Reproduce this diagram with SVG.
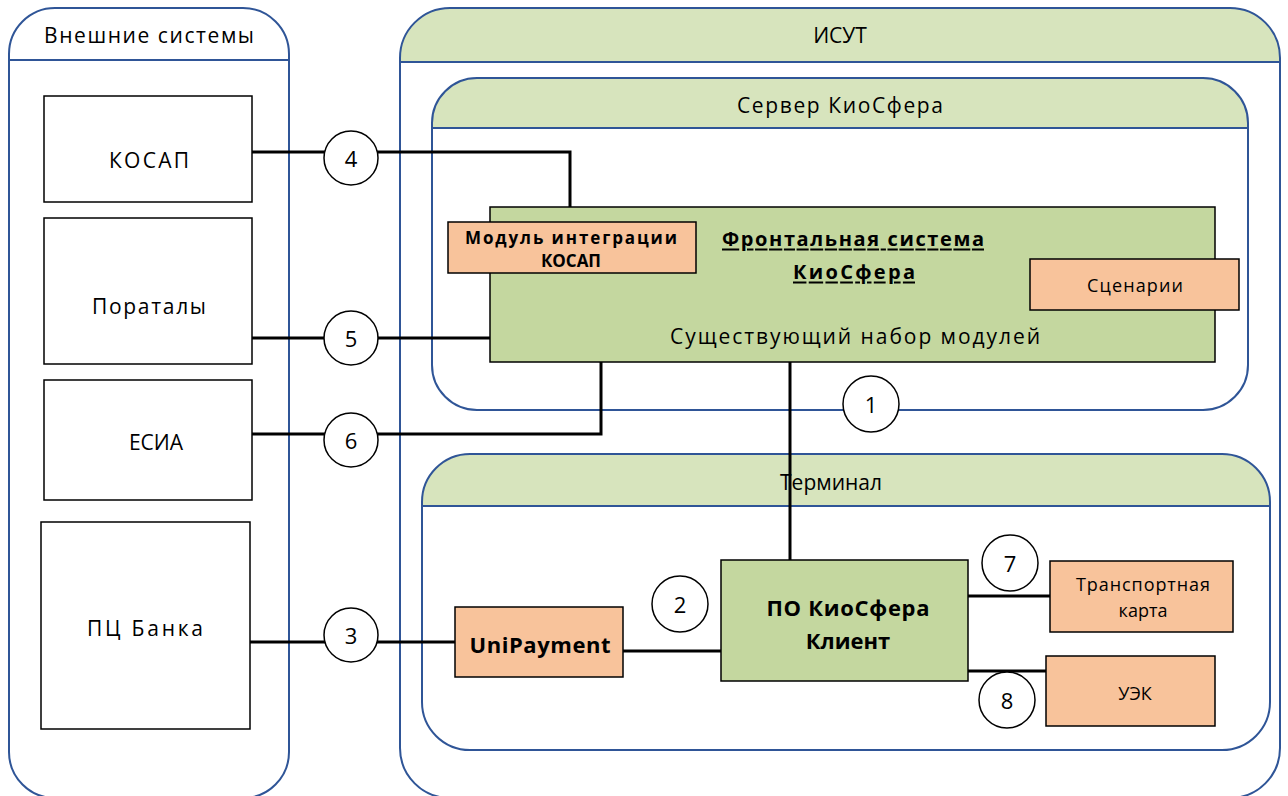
<svg xmlns="http://www.w3.org/2000/svg" width="1288" height="796" viewBox="0 0 1288 796">
<defs>
<style>
text{font-family:"Open Sans","Liberation Sans",sans-serif;fill:#000;text-anchor:middle;dominant-baseline:central}
.cont{fill:none;stroke:#2F5597;stroke-width:2}
.hdr{fill:#D7E4BD;stroke:none}
.sys{fill:#fff;stroke:#000;stroke-width:1.5}
.grn{fill:#C4D79F;stroke:#000;stroke-width:1.5}
.org{fill:#F8C39B;stroke:#000;stroke-width:1.5}
.cir{fill:#fff;stroke:#000;stroke-width:1.5}
.ln{fill:none;stroke:#000;stroke-width:3}
.t20{font-size:21px}
.num{font-size:22px}
.b{font-weight:bold}
</style>
</defs>
<rect width="1288" height="796" fill="#fff"/>
<g id="ext">
<rect class="cont" x="9" y="8" width="280" height="790" rx="46"/>
<line class="cont" x1="9" y1="60" x2="289" y2="60"/>
<text class="t20" x="149" y="35" textLength="210" lengthAdjust="spacing">Внешние системы</text>
</g>
<g id="isut">
<path class="hdr" d="M400,62 V58 A50,50 0 0 1 450,8 H1230 A50,50 0 0 1 1280,58 V62 Z"/>
<rect class="cont" x="400" y="8" width="880" height="790" rx="50"/>
<line class="cont" x1="400" y1="62" x2="1280" y2="62"/>
<text class="t20" x="840" y="35">ИСУТ</text>
</g>
<g id="server">
<path class="hdr" d="M432,128 V123 A45,45 0 0 1 477,78 H1203 A45,45 0 0 1 1248,123 V128 Z"/>
<rect class="cont" x="432" y="78" width="816" height="332" rx="45"/>
<line class="cont" x1="432" y1="128" x2="1248" y2="128"/>
<text class="t20" x="840" y="105" textLength="206" lengthAdjust="spacing">Сервер КиоСфера</text>
</g>
<g id="terminal">
<path class="hdr" d="M422,506 V502 A48,48 0 0 1 470,454 H1222 A48,48 0 0 1 1270,502 V506 Z"/>
<rect class="cont" x="422" y="454" width="848" height="296" rx="48"/>
<line class="cont" x1="422" y1="506" x2="1270" y2="506"/>
<text class="t20" x="831" y="482">Терминал</text>
</g>
<g id="connectors">
<polyline class="ln" points="252,152 570,152 570,207"/>
<line class="ln" x1="252" y1="338" x2="490" y2="338"/>
<polyline class="ln" points="252,434 601,434 601,362"/>
<line class="ln" x1="790" y1="362" x2="790" y2="561"/>
<line class="ln" x1="250" y1="642" x2="455" y2="642"/>
<line class="ln" x1="623" y1="651" x2="721" y2="651"/>
<line class="ln" x1="968" y1="596" x2="1050" y2="596"/>
<line class="ln" x1="968" y1="671" x2="1046" y2="671"/>
</g>
<g id="kosap"><rect class="sys" x="44" y="96" width="208" height="106"/><text class="t20" x="149" y="160" textLength="80" lengthAdjust="spacing">КОСАП</text></g>
<g id="portals"><rect class="sys" x="44" y="218" width="208" height="146"/><text class="t20" x="149" y="306" textLength="114" lengthAdjust="spacing">Пoраталы</text></g>
<g id="esia"><rect class="sys" x="44" y="380" width="208" height="120"/><text class="t20" x="156" y="442">ЕСИА</text></g>
<g id="pc"><rect class="sys" x="41" y="522" width="209" height="207"/><text class="t20" x="145" y="628" textLength="116" lengthAdjust="spacing">ПЦ Банка</text></g>
<g id="front">
<rect class="grn" x="490" y="207" width="725" height="155"/>
<text class="b" font-size="20" x="853" y="238" text-decoration="underline" textLength="262" lengthAdjust="spacing">Фронтальная система</text>
<text class="b" font-size="20" x="854" y="271" text-decoration="underline" textLength="122" lengthAdjust="spacing">КиоСфера</text>
<text class="t20" x="855" y="336" textLength="370" lengthAdjust="spacing">Существующий набор модулей</text>
</g>
<g id="modkosap"><rect class="org" x="448" y="222" width="248" height="51"/>
<text class="b" font-size="17" x="571" y="237" textLength="212" lengthAdjust="spacing">Модуль  интеграции</text>
<text class="b" font-size="17" x="571" y="260" textLength="60" lengthAdjust="spacing">КОСАП</text></g>
<g id="scen"><rect class="org" x="1030" y="259" width="209" height="51"/><text font-size="18" x="1135" y="285" textLength="96" lengthAdjust="spacing">Сценарии</text></g>
<g id="unipay"><rect class="org" x="455" y="607" width="168" height="70"/><text class="b" font-size="22" x="540" y="644" textLength="141" lengthAdjust="spacing">UniPayment</text></g>
<g id="client"><rect class="grn" x="721" y="560" width="247" height="121"/>
<text class="b" font-size="22" x="848" y="607" textLength="163" lengthAdjust="spacing">ПО КиоСфера</text><text class="b" font-size="22" x="848" y="640">Клиент</text></g>
<g id="tcard"><rect class="org" x="1050" y="561" width="183" height="71"/>
<text font-size="18" x="1143" y="584" textLength="134" lengthAdjust="spacing">Транспортная</text><text font-size="18" x="1143" y="610">карта</text></g>
<g id="uek"><rect class="org" x="1046" y="656" width="169" height="70"/><text font-size="18" x="1135" y="693">УЭК</text></g>
<g id="c4"><circle class="cir" cx="351" cy="158" r="27"/><text class="num" x="351" y="158">4</text></g>
<g id="c5"><circle class="cir" cx="351" cy="338" r="27"/><text class="num" x="351" y="338">5</text></g>
<g id="c6"><circle class="cir" cx="351" cy="440" r="27"/><text class="num" x="351" y="440">6</text></g>
<g id="c3"><circle class="cir" cx="351" cy="635" r="27"/><text class="num" x="351" y="635">3</text></g>
<g id="c1"><circle class="cir" cx="871" cy="404" r="28"/><text class="num" x="871" y="404">1</text></g>
<g id="c2"><ellipse class="cir" cx="680" cy="604" rx="28" ry="28"/><text class="num" x="680" y="604">2</text></g>
<g id="c7"><ellipse class="cir" cx="1010" cy="563" rx="28" ry="28"/><text class="num" x="1010" y="563">7</text></g>
<g id="c8"><ellipse class="cir" cx="1007" cy="700" rx="28" ry="28"/><text class="num" x="1007" y="700">8</text></g>
</svg>
